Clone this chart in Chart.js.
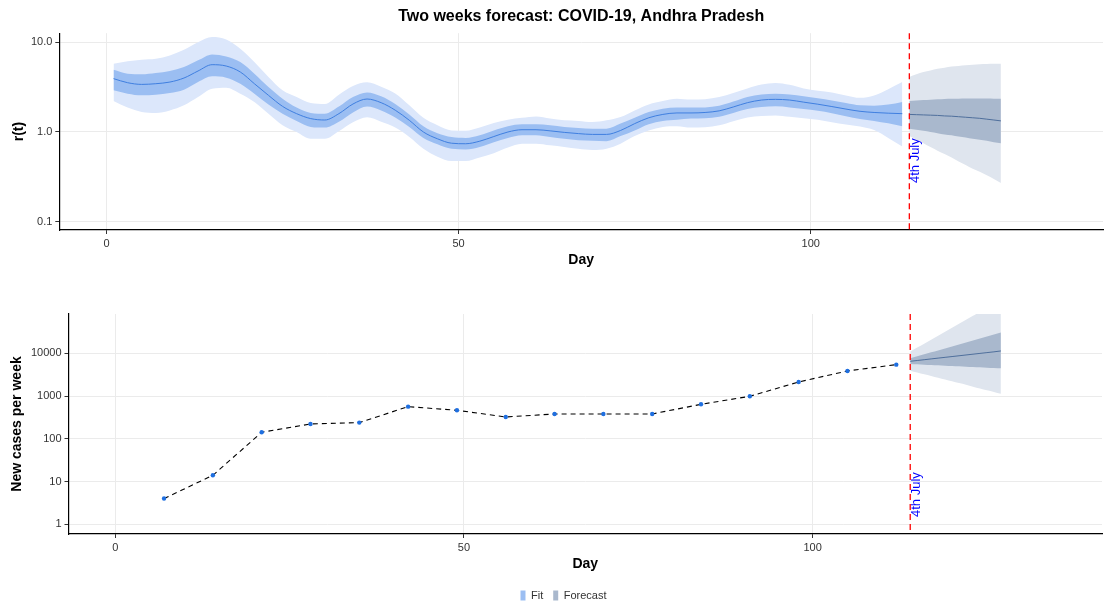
<!DOCTYPE html>
<html>
<head>
<meta charset="utf-8">
<script src="https://cdn.jsdelivr.net/npm/chart.js@4.4.1/dist/chart.umd.min.js"></script>
<style>
  html, body { margin: 0; padding: 0; background: #fff; overflow: hidden; }
  #rChart { position: absolute; left: 0; top: 0; }
  #casesChart { position: absolute; left: 0; top: 280px; }
</style>
</head>
<body>
<canvas id="rChart" width="1106" height="280"></canvas>
<canvas id="casesChart" width="1106" height="331"></canvas>
<script>
// ---- data ----
var fitDays = [1,3,5,7,9,11,13,15,17,19,21,23,25,27,29,31,33,35,37,39,41,43,45,47,49,51,53,55,57,59,61,63,65,67,69,71,73,75,77,79,81,83,85,87,89,91,93,95,97,99,101,103,105,107,109,111,113];
var rMedian = [3.93,3.54,3.39,3.45,3.60,3.99,4.78,5.62,5.43,4.66,3.45,2.56,1.93,1.60,1.41,1.36,1.60,2.05,2.33,2.12,1.75,1.35,1.00,0.84,0.75,0.74,0.79,0.89,1.00,1.06,1.06,1.03,0.99,0.96,0.94,0.94,1.04,1.24,1.44,1.57,1.63,1.63,1.65,1.72,1.90,2.12,2.27,2.31,2.27,2.15,2.04,1.92,1.80,1.70,1.65,1.62,1.60];
var rLo50 = [2.91,2.67,2.56,2.60,2.72,2.96,3.60,4.17,4.03,3.45,2.67,2.03,1.60,1.33,1.14,1.12,1.30,1.65,1.92,1.74,1.45,1.14,0.86,0.73,0.65,0.64,0.68,0.77,0.86,0.92,0.92,0.88,0.84,0.81,0.80,0.79,0.90,1.04,1.22,1.33,1.37,1.41,1.42,1.48,1.63,1.80,1.90,1.93,1.88,1.80,1.72,1.62,1.50,1.40,1.33,1.25,1.16];
var rHi50 = [4.94,4.46,4.39,4.54,4.78,5.29,6.28,7.32,6.95,6.01,4.46,3.17,2.35,1.87,1.63,1.60,1.92,2.45,2.76,2.50,2.05,1.57,1.16,0.97,0.88,0.86,0.92,1.04,1.16,1.22,1.22,1.19,1.14,1.11,1.09,1.09,1.24,1.44,1.67,1.82,1.87,1.87,1.88,1.96,2.18,2.45,2.62,2.67,2.62,2.50,2.37,2.24,2.10,1.98,1.96,2.02,2.16];
var rLo95 = [2.21,1.87,1.67,1.63,1.74,1.98,2.45,3.04,3.12,2.67,2.16,1.60,1.19,1.00,0.84,0.84,1.02,1.28,1.46,1.30,1.12,0.88,0.65,0.53,0.475,0.475,0.52,0.58,0.67,0.74,0.74,0.71,0.68,0.65,0.63,0.65,0.74,0.90,1.04,1.14,1.16,1.12,1.13,1.19,1.32,1.45,1.51,1.53,1.48,1.42,1.37,1.28,1.21,1.15,1.05,0.86,0.69];
var rHi95 = [5.76,6.12,6.38,6.55,7.13,8.25,10.0,11.4,10.7,8.47,6.01,4.09,2.91,2.45,2.10,2.05,2.60,3.25,3.58,3.20,2.68,1.98,1.44,1.19,1.04,1.03,1.12,1.26,1.37,1.44,1.49,1.41,1.35,1.33,1.29,1.35,1.47,1.74,2.03,2.21,2.35,2.30,2.32,2.45,2.72,3.06,3.38,3.51,3.35,3.05,2.88,2.76,2.55,2.40,2.55,3.00,3.60];

var fcDays = [114,115,116,117,118,119,120,121,122,123,124,125,126,127];
var rFcMedian = [1.57,1.56,1.55,1.54,1.53,1.51,1.50,1.48,1.46,1.44,1.42,1.39,1.36,1.33];
var rFcLo50 = [1.09,1.06,1.03,1.00,0.97,0.94,0.92,0.89,0.87,0.84,0.82,0.80,0.77,0.75];
var rFcHi50 = [2.21,2.24,2.27,2.29,2.31,2.33,2.34,2.35,2.36,2.36,2.36,2.36,2.35,2.35];
var rFcLo95 = [0.90,0.82,0.75,0.68,0.62,0.57,0.52,0.47,0.43,0.39,0.36,0.33,0.30,0.27];
var rFcHi95 = [4.10,4.40,4.65,4.85,5.05,5.20,5.35,5.45,5.55,5.62,5.68,5.72,5.75,5.76];

var weekDays = [7,14,21,28,35,42,49,56,63,70,77,84,91,98,105,112];
var weeklyCases = [4,14,142,222,239,565,464,324,381,381,381,641,986,2135,3863,5430];
var casesFcMedian = [6500,6780,7080,7390,7710,8040,8390,8750,9130,9530,9940,10370,10820,11350];
var casesFcLo50 = [5620,5520,5420,5320,5230,5140,5040,4950,4870,4780,4700,4610,4530,4450];
var casesFcHi50 = [7640,8490,9440,10520,11700,13000,14450,16110,17910,19910,22130,24660,27420,30480];
var casesFcLo95 = [3930,3570,3240,2950,2680,2430,2210,2010,1830,1660,1510,1370,1250,1135];
var casesFcHi95 = [10960,13600,16800,20800,25800,32000,39600,49000,60700,75200,93100,115000,143000,177000];

var dayTicks = [0,50,100];
var rTicks = [0.1,1,10];
var casesTicks = [1,10,100,1000,10000];
var forecastStart = 114;
var labelText = '4th July';

// ---- styling ----
var FONT = '"Liberation Sans", Arial, Helvetica, sans-serif';
Chart.defaults.font.family = FONT;
Chart.defaults.color = '#333';

var colors = {
  fitOuter: '#dce7fb',
  fitInner: '#9bbef2',
  fitLine: '#3f7fe0',
  fcOuter: '#dfe5ee',
  fcInner: '#a9b8cd',
  fcLine: '#4f6f9c',
  grid: '#ebebeb'
};

function pts(xs, ys) {
  return xs.map(function (d, i) { return { x: d, y: ys[i] }; });
}

function band(xs, ys, color, fill, order) {
  return {
    data: pts(xs, ys),
    borderWidth: 0,
    pointRadius: 0,
    backgroundColor: color,
    fill: fill,
    order: order,
    cubicInterpolationMode: 'monotone'
  };
}

function line(xs, ys, color, order) {
  return {
    data: pts(xs, ys),
    borderColor: color,
    borderWidth: 1,
    pointRadius: 0,
    fill: false,
    order: order,
    cubicInterpolationMode: 'monotone'
  };
}

function dayAxis(height, titlePad) {
  return {
    type: 'linear',
    min: -6.7,
    max: 141.5,
    grid: { color: colors.grid, lineWidth: 1, tickColor: '#333', tickLength: 4 },
    border: { color: '#000', width: 1.2 },
    ticks: { font: { size: 11 }, color: '#333', padding: 3, maxRotation: 0 },
    afterBuildTicks: function (s) { s.ticks = dayTicks.map(function (v) { return { value: v }; }); },
    afterFit: function (s) { s.height = height; },
    title: { display: true, text: 'Day', color: '#000', font: { size: 14, weight: 'bold' }, padding: { top: 0, bottom: titlePad } }
  };
}

var julyLine = {
  id: 'july',
  afterDatasetsDraw: function (chart, args, opts) {
    var ctx = chart.ctx, a = chart.chartArea;
    var px = chart.scales.x.getPixelForValue(opts.day);
    ctx.save();
    ctx.strokeStyle = '#ff0000';
    ctx.lineWidth = 1.3;
    ctx.setLineDash([6, 4]);
    ctx.beginPath();
    ctx.moveTo(px, a.top);
    ctx.lineTo(px, a.bottom);
    ctx.stroke();
    ctx.setLineDash([]);
    ctx.translate(px + 6.5, chart.scales.y.getPixelForValue(opts.labelY));
    ctx.rotate(-Math.PI / 2);
    ctx.fillStyle = '#0000ff';
    ctx.font = '13px ' + FONT;
    ctx.textAlign = 'left';
    ctx.textBaseline = 'middle';
    ctx.fillText(labelText, 0, 0);
    ctx.restore();
  }
};

// ---- top chart: r(t) ----
new Chart(document.getElementById('rChart'), {
  type: 'line',
  data: {
    datasets: [
      band(fitDays, rLo95, colors.fitOuter, false, 3),
      band(fitDays, rHi95, colors.fitOuter, '-1', 3),
      band(fitDays, rLo50, colors.fitInner, false, 2),
      band(fitDays, rHi50, colors.fitInner, '-1', 2),
      line(fitDays, rMedian, colors.fitLine, 1),
      band(fcDays, rFcLo95, colors.fcOuter, false, 3),
      band(fcDays, rFcHi95, colors.fcOuter, '-1', 3),
      band(fcDays, rFcLo50, colors.fcInner, false, 2),
      band(fcDays, rFcHi50, colors.fcInner, '-1', 2),
      line(fcDays, rFcMedian, colors.fcLine, 1)
    ]
  },
  options: {
    responsive: false,
    animation: false,
    devicePixelRatio: 1,
    events: [],
    layout: { padding: { top: 0, left: 0, right: 3, bottom: 0 } },
    scales: {
      x: dayAxis(50, 11.6),
      y: {
        type: 'logarithmic',
        min: 0.081,
        max: 12.6,
        grid: { color: colors.grid, lineWidth: 1, tickColor: '#333', tickLength: 4 },
        border: { color: '#000', width: 1.2 },
        ticks: { font: { size: 11 }, color: '#333', padding: 3, callback: function (v) { return v.toFixed(1); } },
        afterBuildTicks: function (s) { s.ticks = rTicks.map(function (v) { return { value: v }; }); },
        afterFit: function (s) { s.width = 59.3; },
        title: { display: true, text: 'r(t)', color: '#000', font: { size: 14, weight: 'bold' }, padding: { top: 10.6, bottom: 0 } }
      }
    },
    plugins: {
      legend: { display: false },
      tooltip: { enabled: false },
      title: {
        display: true,
        fullSize: false,
        text: 'Two weeks forecast: COVID-19, Andhra Pradesh',
        color: '#000',
        font: { size: 16, weight: 'bold' },
        padding: { top: 7, bottom: 7 }
      },
      july: { day: forecastStart, labelY: 0.27 }
    }
  },
  plugins: [julyLine]
});

// ---- bottom chart: new cases per week ----
var casesLine = {
  data: pts(weekDays, weeklyCases),
  borderColor: '#000',
  borderWidth: 1.1,
  borderDash: [5, 4],
  pointRadius: 2.2,
  pointBackgroundColor: '#1f6fe0',
  pointBorderWidth: 0,
  fill: false,
  tension: 0,
  order: 0
};

new Chart(document.getElementById('casesChart'), {
  type: 'line',
  data: {
    datasets: [
      band(fcDays, casesFcLo95, colors.fcOuter, false, 3),
      band(fcDays, casesFcHi95, colors.fcOuter, '-1', 3),
      band(fcDays, casesFcLo50, colors.fcInner, false, 2),
      band(fcDays, casesFcHi50, colors.fcInner, '-1', 2),
      line(fcDays, casesFcMedian, colors.fcLine, 1),
      casesLine
    ]
  },
  options: {
    responsive: false,
    animation: false,
    devicePixelRatio: 1,
    events: [],
    layout: { padding: { top: 34, left: 24, right: 3, bottom: 0 } },
    scales: {
      x: dayAxis(46, 7.6),
      y: {
        type: 'logarithmic',
        min: 0.593,
        max: 83000,
        grid: { color: colors.grid, lineWidth: 1, tickColor: '#333', tickLength: 4 },
        border: { color: '#000', width: 1.2 },
        ticks: { font: { size: 11 }, color: '#333', padding: 3, callback: function (v) { return String(v); } },
        afterBuildTicks: function (s) { s.ticks = casesTicks.map(function (v) { return { value: v }; }); },
        afterFit: function (s) { s.width = 44.5; },
        title: { display: true, text: 'New cases per week', color: '#000', font: { size: 14, weight: 'bold' }, padding: { top: -14.9, bottom: 0 } }
      }
    },
    plugins: {
      tooltip: { enabled: false },
      legend: {
        display: true,
        position: 'bottom',
        labels: {
          boxWidth: 5,
          boxHeight: 10,
          padding: 10,
          font: { size: 11 },
          color: '#333',
          generateLabels: function () {
            return [
              { text: 'Fit', fillStyle: colors.fitInner, strokeStyle: colors.fitLine, lineWidth: 0, fontColor: '#333', hidden: false, datasetIndex: 0 },
              { text: 'Forecast', fillStyle: colors.fcInner, strokeStyle: colors.fcLine, lineWidth: 0, fontColor: '#333', hidden: false, datasetIndex: 1 }
            ];
          }
        }
      },
      july: { day: forecastStart, labelY: 1.48 }
    }
  },
  plugins: [julyLine]
});
</script>
</body>
</html>
